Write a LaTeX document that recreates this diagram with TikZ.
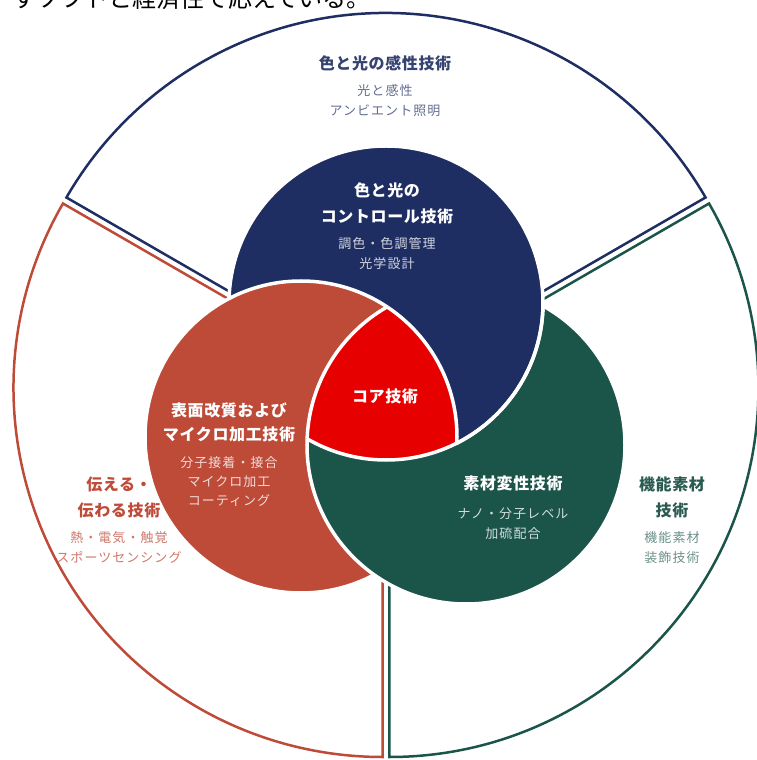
\documentclass[tikz,border=0pt]{standalone}
\usepackage{fontspec}
\newfontfamily\jphead[LetterSpace=4]{Noto Sans CJK JP}
\newfontfamily\jpsub[LetterSpace=8]{Noto Sans CJK JP}
\newfontfamily\jplead{Noto Sans CJK JP}
\definecolor{navyc}{HTML}{1E2D62}
\definecolor{brickc}{HTML}{BE4A38}
\definecolor{forestc}{HTML}{1B5449}
\definecolor{corec}{HTML}{E60000}
\tikzset{
    sector/.style = {
        line width=2.5pt,
        },
    rim/.style = {
        draw=white,
        line width=3.5pt,
        },
    head/.style = {
        font=\jphead\bfseries\fontsize{16}{26}\selectfont,
        align=center,
        inner sep=0pt,
        },
    sub/.style = {
        font=\jpsub\fontsize{13}{20}\selectfont,
        align=center,
        inner sep=0pt,
        },
}

\begin{document}
\begin{tikzpicture}[x=1pt, y=1pt]
    \useasboundingbox (-386,-374) rectangle (370,386);

    \coordinate (atop) at (90:4);
    \coordinate (aleft) at (210:4);
    \coordinate (aright) at (330:4);
    \coordinate (ktop) at (0,83);
    \coordinate (kleft) at (-85,-51);
    \coordinate (kright) at (80,-59);
    \def\rtop{157}
    \def\rleft{156}
    \def\rright{159}

    % outer ring
    \draw[sector, navyc] (atop) -- ++(30:369) arc (30:150:369) -- cycle;
    \draw[sector, brickc] (aleft) -- ++(150:369) arc (150:270:369) -- cycle;
    \draw[sector, forestc] (aright) -- ++(270:369) arc (270:390:369) -- cycle;

    % circles
    \fill[navyc] (ktop) circle (\rtop);
    \fill[brickc] (kleft) circle (\rleft);
    \begin{scope}
        \clip (-400,-400) -- (-400,400) -- (400,400) -- (400,-400) -- cycle (ktop) circle (\rtop);
        \fill[forestc] (kright) circle (\rright);
    \end{scope}

    % core
    \begin{scope}
        \clip (ktop) circle (\rtop);
        \clip (kleft) circle (\rleft);
        \fill[corec] (kright) circle (\rright);
    \end{scope}

    % rims
    \begin{scope}
        \clip (-400,-400) -- (-400,400) -- (400,400) -- (400,-400) -- cycle (kleft) circle (\rleft);
        \draw[rim] (ktop) circle (\rtop);
    \end{scope}
    \begin{scope}
        \clip (kright) circle (\rright);
        \draw[rim] (ktop) circle (\rtop);
    \end{scope}
    \begin{scope}
        \clip (-400,-400) -- (-400,400) -- (400,400) -- (400,-400) -- cycle (kright) circle (\rright);
        \draw[rim] (kleft) circle (\rleft);
    \end{scope}
    \begin{scope}
        \clip (ktop) circle (\rtop);
        \clip (kright) circle (\rright);
        \draw[rim] (kleft) circle (\rleft);
    \end{scope}
    \begin{scope}
        \clip (-400,-400) -- (-400,400) -- (400,400) -- (400,-400) -- cycle (ktop) circle (\rtop);
        \draw[rim] (kright) circle (\rright);
    \end{scope}
    \begin{scope}
        \clip (ktop) circle (\rtop);
        \clip (kleft) circle (\rleft);
        \draw[rim] (kright) circle (\rright);
    \end{scope}

    % ring labels
    \node[head, navyc!90] (senseh) at (-1,323) {色と光の感性技術};
    \node[sub, navyc!70] (senses) at (-1,285.5) {光と感性\\アンビエント照明};
    \node[head, brickc] (conveyh) at (-267,-111) {伝える・\\伝わる技術};
    \node[sub, brickc!75] (conveys) at (-267,-161.5) {熱・電気・触覚\\スポーツセンシング};
    \node[head, forestc!85!gray] (funch) at (286,-111.5) {機能素材\\技術};
    \node[sub, forestc!65] (funcs) at (286,-161.5) {機能素材\\装飾技術};

    % circle labels
    \node[head, white] (ctrlh) at (1,183) {色と光の\\コントロール技術};
    \node[sub, white!80!navyc] (ctrls) at (1,132.5) {調色・色調管理\\光学設計};
    \node[head, white] (surfh) at (-157,-36) {表面改質および\\[-2pt]マイクロ加工技術};
    \node[sub, white!80!brickc] (surfs) at (-157,-96) {分子接着・接合\\[-1pt]マイクロ加工\\[-1pt]コーティング};
    \node[head, white] (core) at (-1,-10) {コア技術};
    \node[head, white] (modh) at (127,-97) {素材変性技術};
    \node[sub, white!80!forestc] (mods) at (127,-138) {ナノ・分子レベル\\加硫配合};

    % cut line above
    \begin{scope}
        \clip (-386,-374) rectangle (370,386);
        \node[font=\jplead\fontsize{24}{26}\selectfont, anchor=base west, inner sep=0pt] (lead) at (-374,378.5) {すソフトと経済性で応えている。};
    \end{scope}
\end{tikzpicture}
\end{document}
